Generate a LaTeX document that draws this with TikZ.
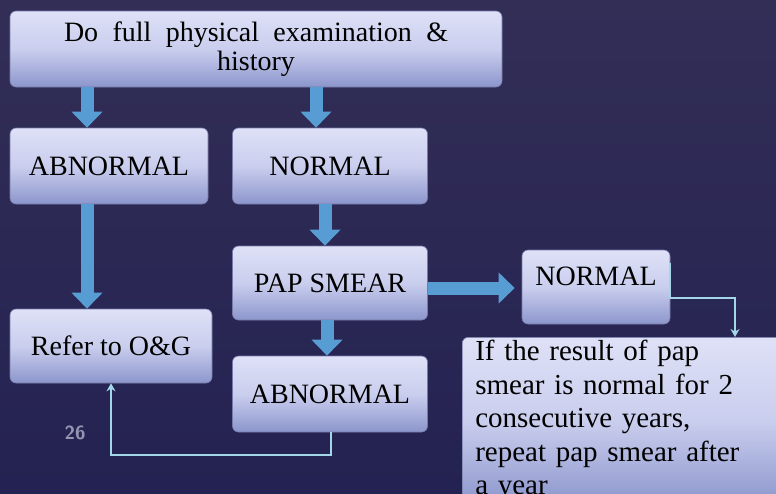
\documentclass[tikz,border=0pt]{standalone}
\usepackage{fontspec}
\setmainfont{Liberation Serif}
\usepackage{xcolor}
\usetikzlibrary{arrows.meta,calc}
\definecolor{bgtop}{RGB}{50,46,86}
\definecolor{bgbot}{RGB}{36,34,82}
\definecolor{boxtop}{RGB}{222,225,246}
\definecolor{boxmid}{RGB}{202,206,238}
\definecolor{boxbot}{RGB}{140,150,204}
\definecolor{boxline}{RGB}{118,122,168}
\definecolor{fatblue}{RGB}{88,156,212}
\definecolor{linkcyan}{RGB}{164,214,234}
\definecolor{pggrey}{RGB}{150,150,178}

\begin{document}
\begin{tikzpicture}[x=1pt,y=-1pt,
  stepbox/.style={draw=boxline,line width=0.6pt,rounded corners=6pt,
              top color=boxtop,bottom color=boxbot,middle color=boxmid,
              font=\fontsize{28}{29}\selectfont,align=center,inner sep=0pt,
              minimum width=#1,minimum height=76pt},stepbox/.default=195pt,
  fat/.style={-{Triangle[width=30pt,length=16pt]},line width=13pt,fatblue},
  link/.style={-{Stealth[width=9pt,length=8pt]},line width=1.8pt,linkcyan}]
  \useasboundingbox (0,0) rectangle (776,493);
  \fill[top color=bgtop,bottom color=bgbot] (0,0) rectangle (776,493);
  \clip (0,0) rectangle (776,493);
  \node[stepbox=492pt] (exam) at (256,49) {\makebox[384pt][s]{Do full physical examination \&}\\history};
  \node[stepbox=198pt] (abn) at (109,166) {ABNORMAL};
  \node[stepbox] (norm) at (330,166) {NORMAL};
  \node[stepbox,minimum height=74pt] (pap) at (330,283) {PAP SMEAR};
  \node[stepbox=202pt,minimum height=74pt] (refer) at (111,346) {Refer to O\&G};
  \node[stepbox] (abn2) at (330,394) {ABNORMAL};
  \node[stepbox=148pt,minimum height=74pt,text height=28pt,text depth=32pt] (norm2) at (596,287) {NORMAL};
  \node[stepbox=330pt,anchor=north west,align=left,text width=304pt,inner xsep=13pt,inner ysep=3pt,
        font=\fontsize{29}{33.5}\selectfont] (note) at (462,337)
        {If the result of pap\\smear is normal for 2\\consecutive years,\\repeat pap smear after\\a year};
  \node[text=pggrey,font=\fontsize{19}{19}\sffamily\bfseries] (pg) at (75,433) {26};
  \foreach \a/\b/\s in {exam/abn/-22,exam/norm/-14,norm/pap/-5,pap/abn2/-3,abn/refer/-24}
    \draw[fat] ($(\a.south -| \b.north)+(\s,0)$) -- ($(\b.north)+(\s,0)$);
  \draw[fat] ($(pap.east)+(0,5)$) -- ($(pap.east -| norm2.west)+(-7,5)$);
  \draw[link] ($(norm2.north east)+(0,13)$) -- ++(0,35) -| ($(note.north west)+(273,0)$);
  \draw[link] ($(abn2.south)+(1,0)$) -- ++(0,23) -| (refer.south);
\end{tikzpicture}
\end{document}
